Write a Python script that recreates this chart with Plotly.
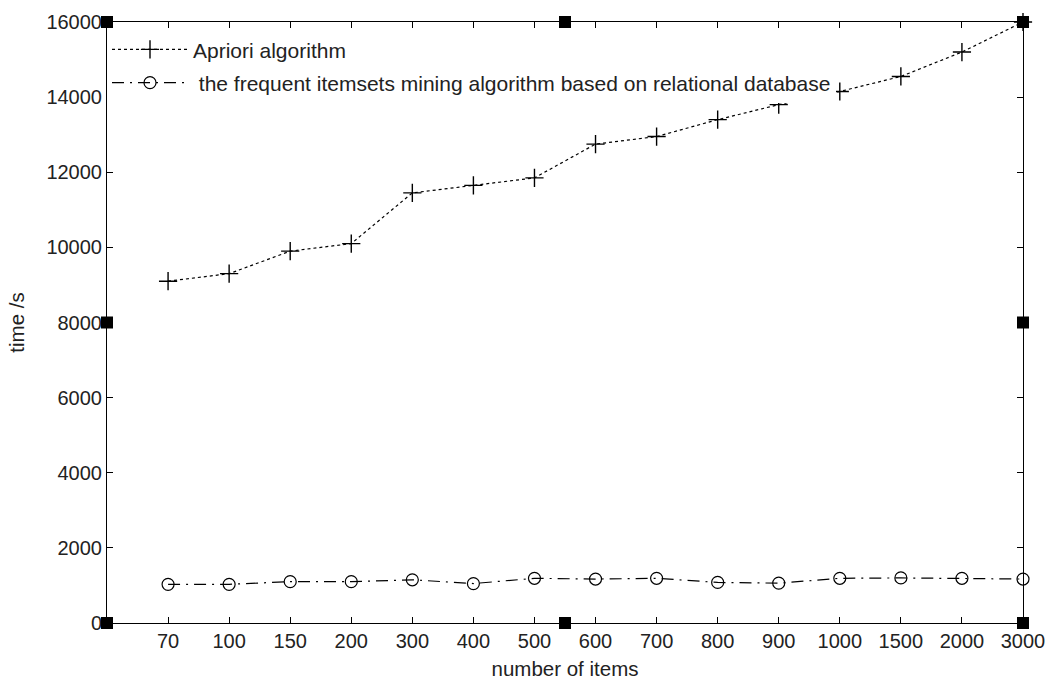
import plotly.graph_objects as go

categories = ["70", "100", "150", "200", "300", "400", "500", "600", "700",
              "800", "900", "1000", "1500", "2000", "3000"]
apriori = [9100, 9300, 9900, 10100, 11450, 11650, 11850, 12750, 12950,
           13400, 13800, 14150, 14550, 15200, 16000]
relational = [1030, 1030, 1100, 1100, 1150, 1050, 1190, 1170, 1190,
              1080, 1060, 1190, 1200, 1190, 1170]
y_ticks = [0, 2000, 4000, 6000, 8000, 10000, 12000, 14000, 16000]

FONT = "Liberation Sans, Arial, sans-serif"
fig = go.Figure()
fig.add_trace(go.Scatter(
    x=categories, y=apriori, mode="lines+markers", name="Apriori algorithm",
    line=dict(color="black", width=1.2, dash="3px,3px"),
    marker=dict(symbol="cross-thin-open", size=13, line=dict(color="black", width=1.4)),
    cliponaxis=False, legendgroup="a"))
fig.add_trace(go.Scatter(
    x=categories, y=relational, mode="lines+markers",
    name=" the frequent itemsets mining algorithm based on relational database",
    line=dict(color="black", width=1.2, dash="12px,6px,2px,6px"),
    marker=dict(symbol="circle-open", size=12, line=dict(color="black", width=1.2)),
    cliponaxis=False, legendgroup="b"))

# MATLAB-style selection handles around the axes box
handles = [(0, 0), (0.5, 0), (1, 0), (0, 0.5), (1, 0.5), (0, 1), (0.5, 1), (1, 1)]
shapes = []
for hx, hy in handles:
    shapes.append(dict(type="rect", xref="paper", yref="paper",
                       xsizemode="pixel", ysizemode="pixel",
                       xanchor=hx, yanchor=hy, x0=-6, x1=6, y0=-6, y1=6,
                       fillcolor="black", line=dict(width=0), layer="above"))

fig.update_layout(
    width=1049, height=680,
    margin=dict(l=107, r=26, t=22, b=57, autoexpand=False),
    paper_bgcolor="white", plot_bgcolor="white",
    font=dict(family=FONT, size=20, color="#222"),
    showlegend=True,
    legend=dict(x=0, y=0.988, xanchor="left", yanchor="top", bgcolor="white",
                borderwidth=0, itemwidth=76, tracegroupgap=3,
                font=dict(family=FONT, size=21, color="#222")),
    shapes=shapes,
    xaxis=dict(type="category", range=[-1, 14], showgrid=False, zeroline=False,
               automargin=False,
               showline=True, linecolor="black", linewidth=1, mirror="ticks",
               ticks="inside", ticklen=6, tickcolor="black",
               title=dict(text="number of items", standoff=10, font=dict(size=20.5))),
    yaxis=dict(range=[0, 16000], tickvals=y_ticks, tickformat="d",
               showgrid=False, zeroline=False, automargin=False,
               showline=True, linecolor="black", linewidth=1, mirror="ticks",
               ticks="inside", ticklen=6, tickcolor="black",
               title=dict(text="time /s", standoff=16, font=dict(size=20.5))),
)

fig.write_html("out.html", config={"displayModeBar": False},
               post_script="document.body.style.margin='0';")
